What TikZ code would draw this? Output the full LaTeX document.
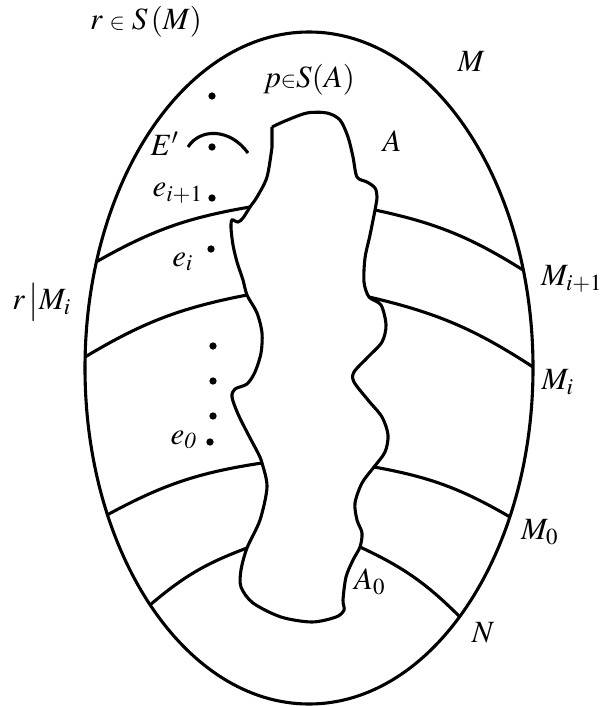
\documentclass[tikz,border=0pt]{standalone}
\usepackage{mathptmx}
\usetikzlibrary{positioning}

\begin{document}
\begin{tikzpicture}[
        x=0.125mm, y=-0.125mm,
        line width=1.1pt,
        lbl/.style={
            font=\fontsize{11}{13}\selectfont,
            inner sep=0pt
        },
        pt/.style={
            circle,
            fill,
            inner sep=0pt,
            minimum size=2.6pt
        },
        band/.style={
            bend left=10
        }
    ]
    \useasboundingbox (0,0) rectangle (605,706);

    % Outer model M
    \draw (309,368) ellipse [x radius=28mm, y radius=42mm];

    % Set A
    \draw plot[smooth, tension=0.5] coordinates {
        (272,127) (285,121) (307,113) (327,113) (340,120) (348,137)
        (353,157) (357,177) (367,182) (375,188) (377,197) (375,210)
        (370,235) (365,258) (364,282) (369,297) (381,305) (386,325)
        (382,342) (368,357) (354,372) (354,382) (368,400) (382,417)
        (388,435) (385,452) (374,467) (362,483) (355,503) (357,520)
        (362,533) (360,547) (353,560) (346,577) (343,600) (344,610)
        (336,617) (312,622) (281,617) (253,603) (241,587) (241,570)
        (247,548) (260,520) (267,487) (262,463) (258,453) (249,436)
        (238,414) (232,397) (235,389) (247,384) (255,372) (261,353)
        (262,333) (257,313) (247,295) (243,280) (237,262) (233,245)
        (231,228) (232,220) (238,222) (243,218) (250,207) (257,197)
        (267,177) (272,147)} -- (272,127);

    % Band ends on the ellipse and on A
    \coordinate (m1l) at (96,262);
    \coordinate (a1l) at (250,207);
    \coordinate (a1r) at (375,210);
    \coordinate (m1r) at (523,270);
    \coordinate (m2l) at (85,357);
    \coordinate (a2l) at (247,295);
    \coordinate (a2r) at (369,297);
    \coordinate (m2r) at (533,367);
    \coordinate (m3l) at (107,515);
    \coordinate (a3l) at (262,463);
    \coordinate (a3r) at (374,467);
    \coordinate (m3r) at (510,517);
    \coordinate (m4l) at (150,605);
    \coordinate (a4l) at (247,548);
    \coordinate (a4r) at (360,547);
    \coordinate (m4r) at (460,617);

    \draw (m1l) to[band] (a1l);
    \draw (a1r) to[band] (m1r);
    \draw (m2l) to[band] (a2l);
    \draw (a2r) to[band] (m2r);
    \draw (m3l) to[band] (a3l);
    \draw (a3r) to[band] (m3r);
    \draw (m4l) to[band] (a4l);
    \draw (a4r) to[band] (m4r);

    % Arc E'
    \draw (188,147) .. controls (200,128) and (230,128) .. (248,153);

    % Points
    \node[pt] (d0) at (212,96) {};
    \node[pt] (d1) at (212,147) {};
    \node[pt] (d2) at (212,198) {};
    \node[pt] (d3) at (211,249) {};
    \node[pt] (d4) at (213,346) {};
    \node[pt] (d5) at (213,381) {};
    \node[pt] (d6) at (213,416) {};
    \node[pt] (d7) at (210,442) {};

    % Labels
    \node[lbl] (rSM) at (146,22) {$r \mathrel{\scriptstyle\in} S\,(M)$};
    \node[lbl] (pSA) at (309,80) {$p{\scriptstyle\in}S(A)$};
    \node[lbl] (lM) at (471,61) {$M$};
    \node[lbl] (lA) at (392,141) {$A$};
    \node[lbl] (lE) at (165,144) {$E'$};
    \node[lbl] (le1) at (178,193) {$e_{i+1}$};
    \node[lbl] (lei) at (183,262) {$e_i$};
    \node[lbl] (le0) at (184,440) {$e_{\mathit{0}}$};
    \node[lbl] (rMi) at (42,302) {$r\,\big|M_i$};
    \node[lbl] (lM1) at (572,279) {$M_{i+1}$};
    \node[lbl] (lMi) at (558,382) {$M_i$};
    \node[lbl] (lM0) at (540,532) {$M_0$};
    \node[lbl] (lA0) at (370,582) {$A_0$};
    \node[lbl] (lN) at (483,633) {$N$};

\end{tikzpicture}
\end{document}
